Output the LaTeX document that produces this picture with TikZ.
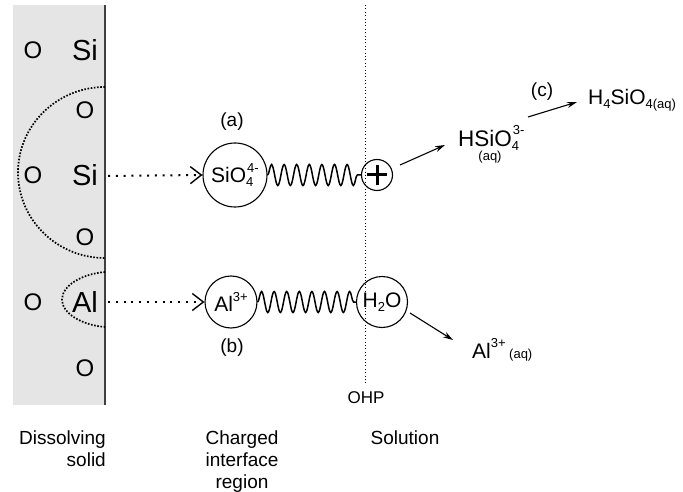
\documentclass[tikz,border=0pt]{standalone}
\usepackage{fontspec}
\setmainfont{Liberation Sans}
\usetikzlibrary{arrows.meta,decorations.pathmorphing}
\newcommand{\dn}[1]{\raisebox{-0.35ex}{\fontsize{13}{13}\selectfont #1}}
\newcommand{\up}[1]{\raisebox{0.95ex}{\fontsize{13}{13}\selectfont #1}}
\newcommand{\sm}[1]{{\fontsize{13}{13}\selectfont #1}}
\begin{document}
\begin{tikzpicture}[x=1pt,y=-1pt,
  big/.style={font=\fontsize{29}{30}\selectfont, inner sep=0pt},
  atom/.style={font=\fontsize{21}{24}\selectfont, inner sep=0pt},
  sol/.style={font=\fontsize{22.5}{24}\selectfont, inner sep=0pt},
  oxy/.style={font=\fontsize{24}{26}\selectfont, inner sep=0pt},
  lbl/.style={font=\fontsize{19}{22}\selectfont, inner sep=0pt},
  ring/.style={circle, draw, line width=1.1pt, inner sep=0pt},
  spring/.style={line width=1.5pt, decorate, decoration={snake, amplitude=10.5pt, segment length=12.6pt}},
  arcline/.style={line width=1.7pt, dash pattern=on 1.6pt off 1.6pt},
  dotarrow/.style={line width=2pt, dash pattern=on 2pt off 5.8pt, -{Straight Barb[length=11pt,width=17pt,line width=1.4pt]}},
  arr/.style={line width=1.1pt, -{Stealth[length=10pt,width=6pt]}}
]
\useasboundingbox (0,0) rectangle (683,492);
% solid
\fill[gray!20] (13,5) rectangle (105,405);
\draw[line width=1.3pt, gray!50!black] (105,5) -- (105,405);
% atoms
\node[oxy] (o1) at (33,50) {O};
\node[big] (si1) at (85,50) {Si};
\node[oxy] (o2) at (85,110) {O};
\node[oxy] (o3) at (33,175) {O};
\node[big] (si2) at (85,175) {Si};
\node[oxy] (o4) at (85,237) {O};
\node[oxy] (o5) at (33,302) {O};
\node[big] (al1) at (85,302) {Al};
\node[oxy] (o6) at (85,368) {O};
% dotted arcs
\draw[arcline] (105,87) .. controls (57,87) and (18,125.3) .. (18,172.5)
  .. controls (18,219.7) and (57,258) .. (105,258);
\draw[arcline] (105,272) .. controls (81,274) and (62,286) .. (62,299.5)
  .. controls (62,313) and (81,325) .. (105,327);
% OHP line
\draw[line width=0.9pt, dash pattern=on 1pt off 2.4pt] (365,5) -- (365,385);
% interface species
\node[ring, minimum size=64pt] (c1) at (235,175) {};
\node[atom] (t1) at (235,175) {SiO\rlap{\dn{4}}\kern1pt\up{4-}};
\node[ring, minimum size=31pt] (p) at (377,175) {};
\draw[line width=3pt] (367,175) -- (387,175) (377,165) -- (377,185);
\node[ring, minimum size=52pt] (c2) at (231,302) {};
\node[atom] (t2) at (231,302) {Al\up{3+}};
\node[ring, minimum size=51pt] (c3) at (382,302) {};
\node[atom] (t3) at (382,302) {H\dn{2}O};
\draw[spring] (c1.east) -- (p.west);
\draw[spring] (c2.east) -- (c3.west);
% dotted arrows
\draw[dotarrow] (si2.east) ++(10,1) -- (c1.west);
\draw[dotarrow] (al1.east) ++(10,0) -- (c2.west);
% labels
\node[lbl] (la) at (232,122) {(a)};
\node[lbl] (lb) at (232,348) {(b)};
\node[lbl] (lc) at (542,92) {(c)};
% solution species
\node[sol, anchor=west] (hs) at (458,138) {HSiO\rlap{\dn{4}}\kern1pt\up{3-}};
\node[font=\fontsize{13}{13}\selectfont, inner sep=0pt] (aq1) at (490,157) {(aq)};
\node[atom, anchor=west] (h4) at (588,100) {H\dn{4}SiO\dn{4(aq)}};
\node[atom, anchor=west] (al2) at (472,350) {Al\up{3+}\,\sm{(aq)}};
\coordinate (a1s) at (400,165);
\coordinate (a1e) at (445,145);
\coordinate (a2s) at (528,117);
\coordinate (a2e) at (577,102);
\coordinate (a3s) at (410,313);
\coordinate (a3e) at (453,340);
\draw[arr] (a1s) -- (a1e);
\draw[arr] (a2s) -- (a2e);
\draw[arr] (a3s) -- (a3e);
% bottom labels
\node[lbl, align=right, anchor=north east] (ds) at (106,431) {Dissolving\\solid};
\node[lbl, align=center, anchor=north] (ci) at (242,431) {Charged\\interface\\region};
\node[lbl, anchor=north] (so) at (405,431) {Solution};
\node[lbl, font=\fontsize{17}{20}\selectfont] (ohp) at (366,398) {OHP};
\end{tikzpicture}
\end{document}
